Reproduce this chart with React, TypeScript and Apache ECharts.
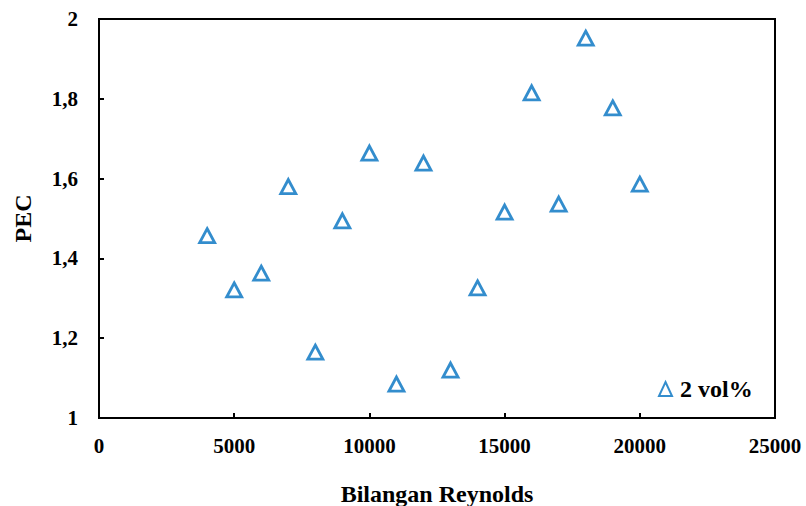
import React, { useEffect, useRef } from "react";
import * as echarts from "echarts";

const reynolds = [4000, 5000, 6000, 7000, 8000, 9000, 10000, 11000, 12000, 13000, 14000, 15000, 16000, 17000, 18000, 19000, 20000];
const pec = [1.457, 1.321, 1.363, 1.58, 1.165, 1.494, 1.664, 1.085, 1.639, 1.12, 1.326, 1.516, 1.815, 1.536, 1.952, 1.777, 1.586];
const seriesName = "2 vol%";

export default function App() {
  const ref = useRef<HTMLDivElement>(null);
  useEffect(() => {
    if (!ref.current) return;
    const chart = echarts.init(ref.current, undefined, { renderer: "svg" });
    const font = { fontFamily: "Liberation Serif", fontWeight: "bold" as const, fontSize: 21, color: "#000" };
    chart.setOption({
      animation: false,
      backgroundColor: "#fff",
      grid: {
        left: 99, right: 31, top: 19, bottom: 88,
        outerBoundsMode: "none", containLabel: false,
        show: true, borderColor: "#000", borderWidth: 2,
      },
      legend: {
        data: [seriesName],
        left: 658,
        top: 377,
        padding: 0,
        icon: "triangle",
        itemWidth: 13,
        itemHeight: 14,
        itemGap: 4,
        textStyle: { ...font, fontSize: 24, padding: [0, 0, 0, 3] },
      },
      xAxis: {
        type: "value",
        min: 0,
        max: 25000,
        interval: 5000,
        name: "Bilangan Reynolds",
        nameLocation: "middle",
        nameGap: 64,
        nameTextStyle: { ...font, fontSize: 24 },
        axisLine: { show: true, lineStyle: { color: "#000", width: 2 } },
        axisTick: { show: true, inside: true, length: 5, lineStyle: { color: "#000", width: 2 } },
        axisLabel: { ...font, margin: 17, formatter: (v: number) => String(v) },
        splitLine: { show: false },
      },
      yAxis: {
        type: "value",
        min: 1,
        max: 2,
        interval: 0.2,
        name: "PEC",
        nameLocation: "middle",
        nameGap: 64,
        nameTextStyle: { ...font, fontSize: 24 },
        axisLine: { show: true, lineStyle: { color: "#000", width: 2 } },
        axisTick: { show: true, inside: true, length: 5, lineStyle: { color: "#000", width: 2 } },
        axisLabel: {
          ...font,
          margin: 21,
          formatter: (v: number) => String(Math.round(v * 10) / 10).replace(".", ","),
        },
        splitLine: { show: false },
      },
      series: [
        {
          name: seriesName,
          type: "scatter",
          symbol: "triangle",
          symbolSize: [15, 14],
          data: reynolds.map((r, i) => [r, pec[i]]),
          itemStyle: { color: "#fff", borderColor: "#0070C0", borderWidth: 2.8 },
        },
      ],
    });
    return () => chart.dispose();
  }, []);
  return <div ref={ref} style={{ width: 806, height: 506, position: "absolute", left: 0, top: 0 }} />;
}
